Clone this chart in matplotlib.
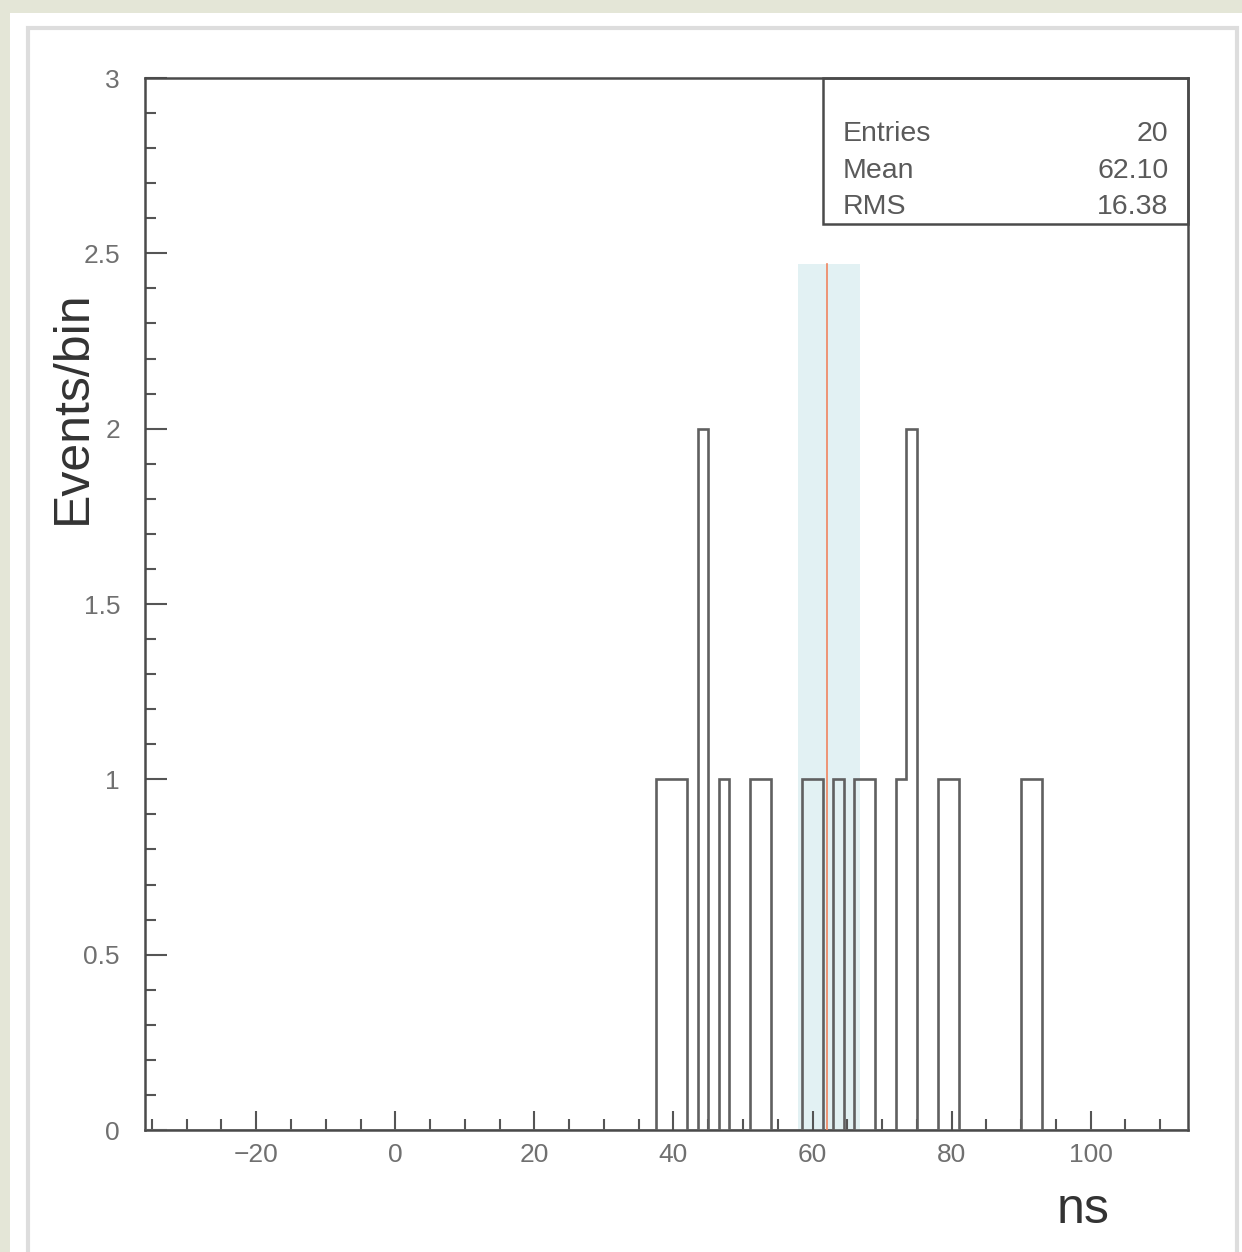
import numpy as np
import matplotlib
matplotlib.use("Agg")
import matplotlib.pyplot as plt
from matplotlib.patches import Rectangle
from matplotlib.ticker import MultipleLocator

plt.rcParams["font.family"] = ["Liberation Sans", "DejaVu Sans"]

# histogram: 100 bins of 1.5 ns from -36 to 114, only the filled ones listed
x_min, x_max, n_bins = -36.0, 114.0, 100
filled_bin_low = [37.5, 39.0, 40.5, 43.5, 46.5, 51.0, 52.5, 58.5, 60.0,
                  63.0, 66.0, 67.5, 72.0, 73.5, 78.0, 79.5, 90.0, 91.5]
filled_bin_count = [1, 1, 1, 2, 1, 1, 1, 1, 1,
                    1, 1, 1, 1, 2, 1, 1, 1, 1]

mean_value = 62.10
band_low, band_high = 57.9, 66.8
band_top = 2.47

stats_names = ["Entries", "Mean", "RMS"]
stats_values = ["20", "62.10", "16.38"]

x_ticks = [-20, 0, 20, 40, 60, 80, 100]
x_tick_labels = ["\u221220", "0", "20", "40", "60", "80", "100"]
y_ticks = [0, 0.5, 1, 1.5, 2, 2.5, 3]
y_tick_labels = ["0", "0.5", "1", "1.5", "2", "2.5", "3"]

W, H = 1242, 1252
fig = plt.figure(figsize=(W / 100, H / 100), dpi=100, facecolor="#e4e6d7")
# white slide panel and light grey frame, kept behind the axes
fig.patches.append(Rectangle((10 / W, 0), 1, 1 - 13 / H, transform=fig.transFigure,
                             facecolor="white", edgecolor="none", zorder=-10))
fig.patches.append(Rectangle((28 / W, -0.1), (1237 - 28) / W, 0.1 + 1 - 28 / H,
                             transform=fig.transFigure, fill=False,
                             edgecolor="#dddddd", lw=3, zorder=-9))

ax = fig.add_axes([145 / W, 1 - 1130 / H, (1188 - 145) / W, (1130 - 78) / H])
ax.set_facecolor("white")

edges = np.linspace(x_min, x_max, n_bins + 1)
centers = np.array(filled_bin_low) + (edges[1] - edges[0]) / 2
counts, _ = np.histogram(centers, bins=edges, weights=filled_bin_count)

ax.axvspan(band_low, band_high, ymin=0, ymax=band_top / 3, color="#e2f1f3", lw=0, zorder=1)
ax.stairs(counts, edges, baseline=0, color="#606060", lw=1.9, zorder=3)
ax.plot([mean_value, mean_value], [0, band_top], color="#f0845f", lw=1.2, zorder=4)

ax.set_xlim(x_min, x_max)
ax.set_ylim(0, 3)
ax.set_xticks(x_ticks)
ax.set_xticklabels(x_tick_labels)
ax.set_yticks(y_ticks)
ax.set_yticklabels(y_tick_labels)
ax.xaxis.set_minor_locator(MultipleLocator(5))
ax.yaxis.set_minor_locator(MultipleLocator(0.1))
ax.tick_params(which="both", direction="in", color="#555555", width=1.5,
               labelcolor="#707070", labelsize=19)
ax.tick_params(axis="x", which="major", length=14, pad=9)
ax.tick_params(axis="x", which="minor", length=8)
ax.tick_params(axis="y", which="major", length=16, pad=18)
ax.tick_params(axis="y", which="minor", length=8)
ax.tick_params(top=False, right=False)
for side in ax.spines.values():
    side.set_color("#4a4a4a")
    side.set_linewidth(1.8)

# stats box in the top-right corner
ax.add_patch(Rectangle((0.650, 0.861), 0.35, 0.139, transform=ax.transAxes,
                       fill=False, edgecolor="#4a4a4a", lw=1.8, zorder=5, clip_on=False))
for i, (name, val) in enumerate(zip(stats_names, stats_values)):
    y = 1 - (134 + 36.5 * i - 78) / 1052
    ax.text(0.669, y, name, transform=ax.transAxes, ha="left", va="center",
            fontsize=20.5, color="#5a5a5a")
    ax.text(0.9815, y, val, transform=ax.transAxes, ha="right", va="center",
            fontsize=20.5, color="#5a5a5a")

fig.text(73 / W, 1 - 407 / H, "Events/bin", rotation=90, ha="center", va="center",
         fontsize=36, color="#333333")
fig.text(1083 / W, 1 - 1210 / H, "ns", ha="center", va="center",
         fontsize=36, color="#333333")

fig.savefig("out.png", dpi=100, facecolor=fig.get_facecolor())
